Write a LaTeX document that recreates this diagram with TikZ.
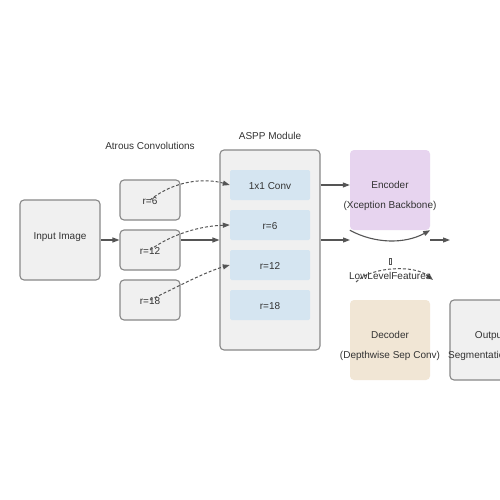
\documentclass[tikz,border=0pt]{standalone}
\usepackage{fontspec}
\setmainfont{Liberation Sans}
\usetikzlibrary{arrows.meta}
\definecolor{boxgray}{HTML}{F0F0F0}
\definecolor{edgegray}{HTML}{888888}
\definecolor{linegray}{HTML}{555555}
\definecolor{txtgray}{HTML}{333333}
\definecolor{asppblue}{HTML}{D5E5F1}
\definecolor{encpurple}{HTML}{E7D4EF}
\definecolor{decbeige}{HTML}{F1E6D5}
\tikzset{
  graybox/.style={draw=edgegray, fill=boxgray, line width=1.1pt, rounded corners=4pt, inner sep=0pt},
  bluebox/.style={fill=asppblue, rounded corners=1.5pt, minimum width=80pt, minimum height=30pt, inner sep=0pt},
  colbox/.style={rounded corners=4pt, minimum width=80pt, minimum height=80pt, inner sep=0pt},
  txt/.style={text=txtgray, font=\fontsize{10pt}{20pt}\selectfont, inner sep=0pt, align=center},
  conn/.style={draw=linegray, line width=1.1pt, -{Triangle[length=7pt,width=5pt]}},
  dconn/.style={draw=linegray, line width=1pt, dash pattern=on 3pt off 2pt, -{Triangle[length=7pt,width=5pt]}},
}
\begin{document}
\begin{tikzpicture}[x=1pt,y=-1pt]
\useasboundingbox (0,0) rectangle (500,500);
\clip (0,0) rectangle (500,500);
\fill[white] (0,0) rectangle (500,500);

% titles
\node[txt] (ttlatrous) at (150,146) {Atrous Convolutions};
\node[txt] (ttlaspp) at (270,136) {ASPP Module};

% input
\node[graybox, minimum width=80pt, minimum height=80pt] (input) at (60,240) {};
\node[txt] (inputtxt) at (60,237) {Input Image};

% atrous boxes
\node[graybox, minimum width=60pt, minimum height=40pt] (a6) at (150,200) {};
\node[txt] (a6t) at (150,201) {r=6};
\node[graybox, minimum width=60pt, minimum height=40pt] (a12) at (150,250) {};
\node[txt] (a12t) at (150,251) {r=12};
\node[graybox, minimum width=60pt, minimum height=40pt] (a18) at (150,300) {};
\node[txt] (a18t) at (150,301) {r=18};

% ASPP module
\node[graybox, minimum width=100pt, minimum height=200pt] (aspp) at (270,250) {};
\node[bluebox] (b1) at (270,185) {};
\node[txt] (b1t) at (270,186) {1x1 Conv};
\node[bluebox] (b2) at (270,225) {};
\node[txt] (b2t) at (270,226) {r=6};
\node[bluebox] (b3) at (270,265) {};
\node[txt] (b3t) at (270,266) {r=12};
\node[bluebox] (b4) at (270,305) {};
\node[txt] (b4t) at (270,306) {r=18};

% encoder / decoder / output
\node[colbox, fill=encpurple] (enc) at (390,190) {};
\node[txt] (enct) at (390,196) {Encoder\\(Xception Backbone)};
\node[colbox, fill=decbeige] (dec) at (390,340) {};
\node[txt] (dect) at (390,346) {Decoder\\(Depthwise Sep Conv)};
\node[graybox, minimum width=80pt, minimum height=80pt] (out) at (490,340) {};
\node[txt] (outt) at (490,336) {Output};
\node[txt, anchor=west] (segt) at (448,356) {Segmentation};

% solid connectors
\draw[conn] (input.east) -- (a12.west |- input.east);
\draw[conn] (a12.east |- input.east) -- (aspp.west |- input.east);
\draw[conn] (aspp.east |- b1.center) -- (enc.west |- b1.center);
\coordinate (midin) at (350,240);
\draw[conn] (aspp.east |- midin) -- (midin);
\draw[conn] (enc.south west) .. controls (375,244) and (405,244) .. (enc.south east);
\coordinate (c1) at (430,240);
\coordinate (c2) at (450,240);
\draw[conn] (c1) -- (c2);

% dashed connectors
\draw[dconn] (a6.center) .. controls (175,180) and (205,178) .. (b1.west);
\draw[dconn] (a12.center) .. controls (172,234) and (200,226) .. (b2.west);
\draw[dconn] (a18.center) .. controls (175,288) and (205,272) .. (b3.west);

% low level features
\coordinate (l1) at (356,282);
\coordinate (l2) at (433,280);
\draw[dconn] (l1) .. controls (372,266) and (415,265) .. (l2);
\node[txt] (lowt) at (390,276) {LowLevelFeatures};
\node[draw=linegray, line width=0.3pt, minimum width=2.5pt, minimum height=6pt, inner sep=0pt] (glyph) at (390,261) {};
\end{tikzpicture}
\end{document}
